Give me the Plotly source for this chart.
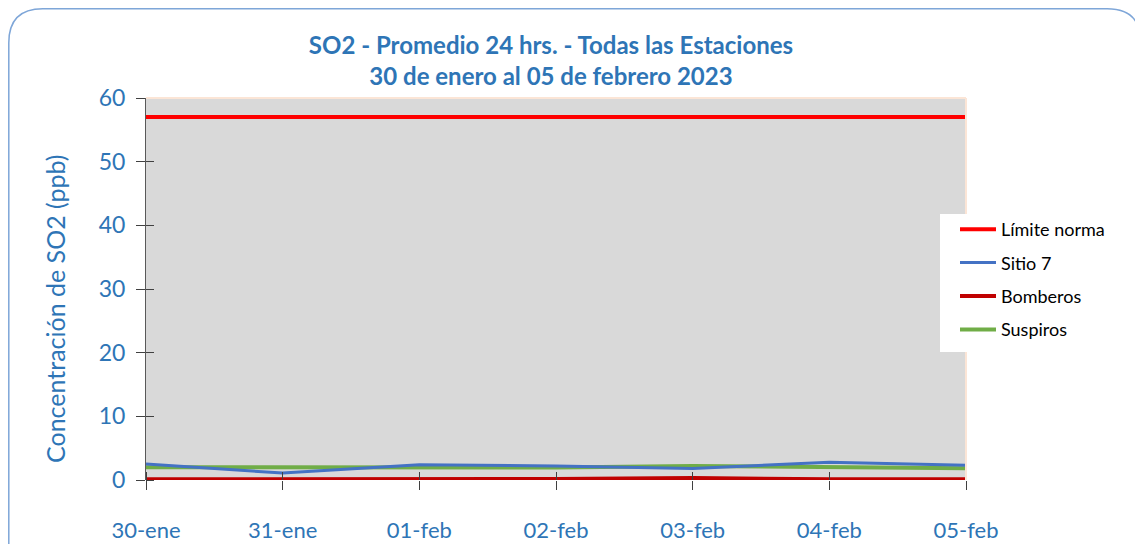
import plotly.graph_objects as go

categories = ["30-ene", "31-ene", "01-feb", "02-feb", "03-feb", "04-feb", "05-feb"]
limite_norma = [57, 57, 57, 57, 57, 57, 57]
sitio7 = [2.5, 1.1, 2.4, 2.2, 1.8, 2.8, 2.3]
bomberos = [0.1, 0.1, 0.15, 0.15, 0.3, 0.1, 0.1]
suspiros = [2.0, 1.95, 1.9, 1.95, 2.2, 2.0, 1.85]
y_ticks = [0, 10, 20, 30, 40, 50, 60]

OFF = 8  # page body margin
W, H = 1143 - OFF, 544 - OFF
L, R, T, B = 146 - OFF, 966 - OFF, 98 - OFF, 480 - OFF

def px(x):
    return (x - OFF - L) / (R - L)

def py(y):
    return (B - (y - OFF)) / (B - T)

FONT = "Lato"
BLUE_TXT = "#2E75B6"

fig = go.Figure()
fig.add_trace(go.Scatter(x=categories, y=bomberos, name="Bomberos", mode="lines",
                         line=dict(color="#C00000", width=4), legendrank=3, legendgroup="c"))
fig.add_trace(go.Scatter(x=categories, y=suspiros, name="Suspiros", mode="lines",
                         line=dict(color="#70AD47", width=4), legendrank=4, legendgroup="d"))
fig.add_trace(go.Scatter(x=categories, y=sitio7, name="Sitio 7", mode="lines",
                         line=dict(color="#4472C4", width=3), legendrank=2, legendgroup="b"))
fig.add_trace(go.Scatter(x=categories, y=limite_norma, name="Límite norma", mode="lines",
                         line=dict(color="#FF0000", width=4), legendrank=1, legendgroup="a"))

# rounded border frame
x0, x1 = px(8.8), px(1141)
y0, y1 = py(8.8), py(580)
rx = 34 / (R - L)
ry = 34 / (B - T)
path = (f"M {x0},{y1} L {x0},{y0 - ry} Q {x0},{y0} {x0 + rx},{y0} "
        f"L {x1 - rx},{y0} Q {x1},{y0} {x1},{y0 - ry} L {x1},{y1}")

fig.update_layout(
    width=W, height=H,
    margin=dict(l=L, r=W - R, t=T, b=H - B, autoexpand=False),
    paper_bgcolor="white",
    plot_bgcolor="#D9D9D9",
    font=dict(family=FONT, color=BLUE_TXT),
    title=dict(text="SO2 - Promedio 24 hrs. - Todas las Estaciones<br>30 de enero al 05 de febrero 2023",
               x=(551 - OFF) / W, xanchor="center", y=1 - (54 - OFF) / H, yanchor="middle",
               font=dict(family=FONT, size=24, color=BLUE_TXT, weight="bold")),
    showlegend=True,
    legend=dict(x=px(955), y=py(211), xanchor="left", yanchor="top",
                bgcolor="rgba(0,0,0,0)", borderwidth=0,
                font=dict(family=FONT, size=18, color="black"),
                itemwidth=36, tracegroupgap=7,
                traceorder="grouped"),
    shapes=[
        dict(type="path", xref="paper", yref="paper", path=path,
             line=dict(color="#7EA6D8", width=1.5), layer="above"),
        dict(type="line", xref="paper", yref="paper", x0=0, x1=1, y0=1, y1=1,
             line=dict(color="#FBE5D6", width=2)),
        dict(type="line", xref="paper", yref="paper", x0=1, x1=1, y0=0, y1=1,
             line=dict(color="#FBE5D6", width=2)),
        dict(type="rect", xref="paper", yref="paper",
             x0=px(940), x1=px(1113), y0=py(352), y1=py(214),
             fillcolor="white", line=dict(width=0), layer="above"),
    ],
    annotations=[
        dict(text="Concentración de SO2 (ppb)", xref="paper", yref="paper",
             x=px(55), y=py(309), textangle=-90, showarrow=False,
             xanchor="center", yanchor="middle",
             font=dict(family=FONT, size=25, color=BLUE_TXT)),
    ],
)

fig.update_layout(xaxis=dict(
    type="category", range=[0, 6], showgrid=False,
    showline=False, ticks="outside", ticklen=9, tickcolor="#404040", tickwidth=1,
    tickfont=dict(family=FONT, size=22, color=BLUE_TXT),
    minor=dict(ticks="inside", ticklen=8, tickcolor="#404040", tickwidth=1,
               tickmode="array", tickvals=list(range(len(categories))), showgrid=False),
    ticklabelstandoff=22, zeroline=False, automargin=False,
))
fig.update_layout(yaxis=dict(
    range=[0, 60], tickvals=y_ticks, showgrid=False,
    showline=True, linecolor="#595959", linewidth=1,
    ticks="outside", ticklen=9, tickcolor="#404040", tickwidth=1,
    minor=dict(ticks="inside", ticklen=8, tickcolor="#404040", tickwidth=1,
               tickmode="array", tickvals=y_ticks, showgrid=False),
    tickfont=dict(family=FONT, size=23, color=BLUE_TXT),
    ticklabelstandoff=6,
    zeroline=False, automargin=False,
))

fig.write_html("out.html")
